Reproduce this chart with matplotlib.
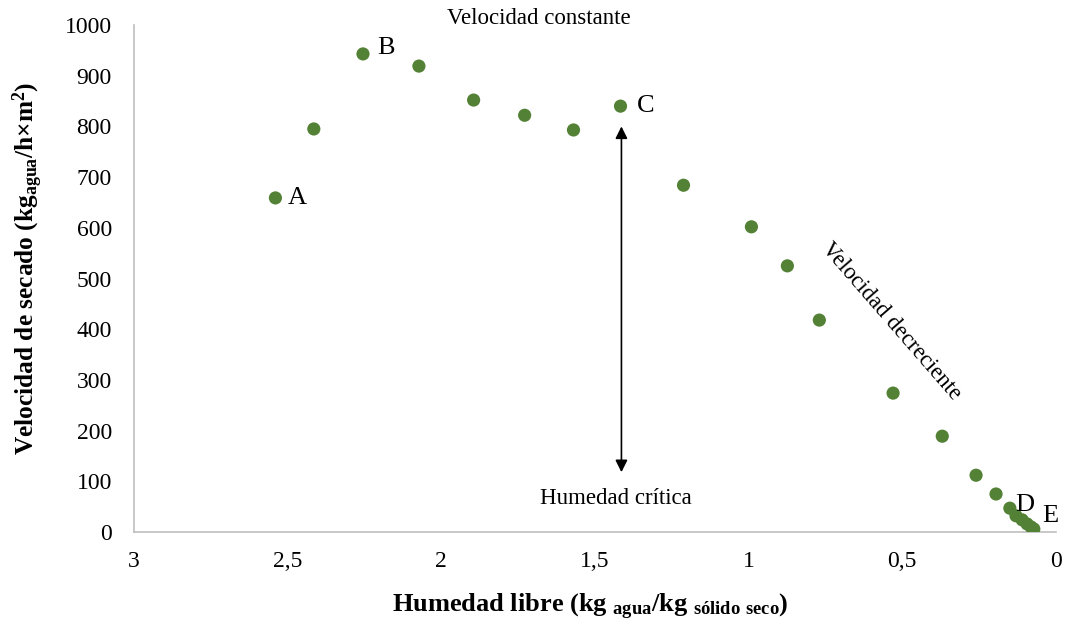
import numpy as np
import matplotlib
matplotlib.use('Agg')
import matplotlib.pyplot as plt

plt.rcParams['font.family'] = ['Liberation Serif', 'DejaVu Serif']
plt.rcParams['mathtext.fontset'] = 'custom'
plt.rcParams['mathtext.rm'] = 'Liberation Serif'
plt.rcParams['mathtext.bf'] = 'Liberation Serif:bold'
plt.rcParams['mathtext.default'] = 'bf'

# free moisture (kg water / kg dry solid) and drying rate (kg water / h m2)
humedad = [2.54, 2.415, 2.255, 2.073, 1.895, 1.729, 1.570, 1.417, 1.212,
           0.991, 0.874, 0.770, 0.530, 0.370, 0.260, 0.195, 0.150,
           0.130, 0.110, 0.094, 0.081, 0.072]
velocidad = [659, 795, 943, 919, 852, 822, 793, 840, 684,
             602, 525, 418, 274, 189, 112, 75, 47,
             32, 24, 16, 10, 6]

# labelled points: letter, x, y
etiquetas = ['A', 'B', 'C', 'D', 'E']
etq_x = [2.54, 2.255, 1.417, 0.150, 0.072]
etq_y = [659, 943, 840, 47, 6]

x_ticks = [3, 2.5, 2, 1.5, 1, 0.5, 0]
x_tick_labels = ['3', '2,5', '2', '1,5', '1', '0,5', '0']
y_ticks = list(range(0, 1001, 100))

humedad_critica = 1.414
flecha_y = (800, 118)

fig = plt.figure(figsize=(10.69, 6.24), dpi=100)
ax = fig.add_axes([0.1254, 0.1474, 0.8624, 0.8125])

ax.scatter(humedad, velocidad, s=90, color='#538135', zorder=3,
           edgecolors='none')

# label offsets in points from each point
offsets = {'A': (9, 0), 'B': (10, 4), 'C': (12, 0),
           'D': (4, 2), 'E': (6, 9)}
for lab, xv, yv in zip(etiquetas, etq_x, etq_y):
    ax.annotate(lab, (xv, yv), xytext=offsets[lab],
                textcoords='offset points', fontsize=19,
                va='center', ha='left', zorder=4)

# critical moisture double arrow
ax.annotate('', xy=(humedad_critica, flecha_y[0]),
            xytext=(humedad_critica, flecha_y[1]),
            arrowprops=dict(arrowstyle='<|-|>', color='black', lw=1.2,
                            mutation_scale=18, shrinkA=0, shrinkB=0))
ax.text(1.433, 67, 'Humedad crítica', fontsize=16.5,
        ha='center', va='center')
ax.text(1.683, 1012, 'Velocidad constante', fontsize=16.5,
        ha='center', va='center', clip_on=False)
ax.text(0.535, 416, 'Velocidad decreciente', fontsize=16.5,
        ha='center', va='center', rotation=-49, rotation_mode='anchor')

ax.set_xlim(3, 0)
ax.set_ylim(0, 1000)
ax.set_xticks(x_ticks)
ax.set_xticklabels(x_tick_labels)
ax.set_yticks(y_ticks)
ax.tick_params(length=0, labelsize=17)
ax.tick_params(axis='x', pad=14)
ax.tick_params(axis='y', pad=16)

for side in ['top', 'right']:
    ax.spines[side].set_visible(False)
for side in ['left', 'bottom']:
    ax.spines[side].set_color('#bfbfbf')
    ax.spines[side].set_linewidth(1.2)

ax.set_ylabel(r'Velocidad de secado (kg$_{agua}$/h×m$^{2}$)',
              fontsize=18.3, fontweight='bold')
ax.set_xlabel(r'Humedad libre (kg $_{agua}$/kg $_{sólido\ seco}$)',
              fontsize=19, fontweight='bold')
ax.yaxis.set_label_coords(-0.0965, 0.521)
ax.xaxis.set_label_coords(0.495, -0.118)

fig.savefig('out.png', dpi=100)
